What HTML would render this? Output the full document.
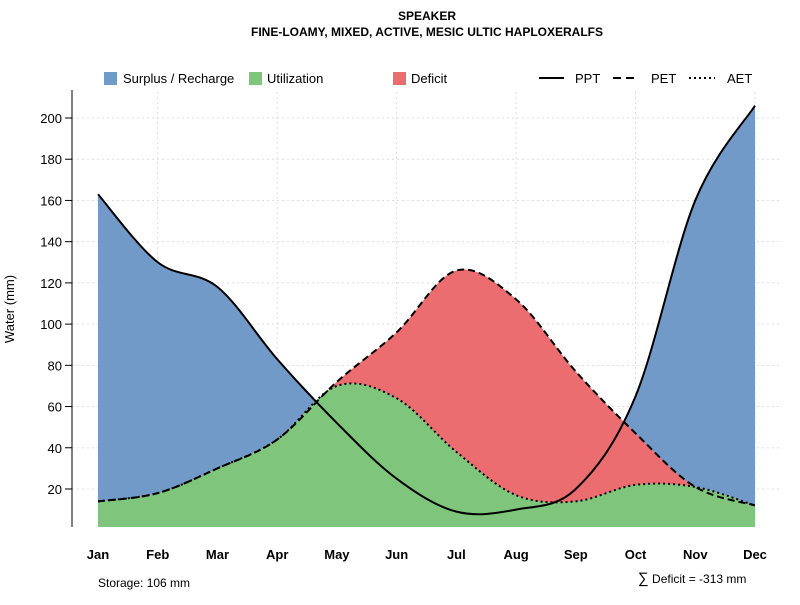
<!DOCTYPE html>
<html><head><meta charset="utf-8"><style>
body{margin:0;background:#fff;font-family:"Liberation Sans",sans-serif}
svg text{font-family:"Liberation Sans",sans-serif}
</style></head><body>
<svg id="chart" width="800" height="600" xmlns="http://www.w3.org/2000/svg">
<text x="427" y="20" text-anchor="middle" font-size="12" font-weight="bold">SPEAKER</text>
<text x="427" y="36" text-anchor="middle" font-size="12" font-weight="bold">FINE-LOAMY, MIXED, ACTIVE, MESIC ULTIC HAPLOXERALFS</text>
<g id="grid"></g>
<g id="areas"></g>
<g id="lines"></g>
<g id="axes"></g>
<g font-size="13">
 <g><rect x="104" y="72" width="13" height="13" fill="#729ac9"/><text x="123" y="83">Surplus / Recharge</text></g>
 <g><rect x="249" y="72" width="13" height="13" fill="#7fc57c"/><text x="267" y="83">Utilization</text></g>
 <g><rect x="393" y="72" width="13" height="13" fill="#ec6d6f"/><text x="411" y="83">Deficit</text></g>
 <g><line x1="539" y1="78" x2="564" y2="78" stroke="#000" stroke-width="2"/><text x="575" y="83">PPT</text></g>
 <g><line x1="613" y1="78" x2="638" y2="78" stroke="#000" stroke-width="2" stroke-dasharray="8,5"/><text x="651" y="83">PET</text></g>
 <g><line x1="689" y1="78" x2="715" y2="78" stroke="#000" stroke-width="2" stroke-dasharray="2,3"/><text x="727" y="83">AET</text></g>
</g>
<text x="98" y="587" font-size="12">Storage: 106 mm</text>
<text x="638" y="583" font-size="12"><tspan font-size="15">∑</tspan> Deficit = -313 mm</text>
<text transform="translate(14,309) rotate(-90)" text-anchor="middle" font-size="13">Water (mm)</text>
</svg>
<script>
const months=["Jan","Feb","Mar","Apr","May","Jun","Jul","Aug","Sep","Oct","Nov","Dec"];
const ppt=[163,130,118,83,52,25,9,10,20,65,160,206];
const pet=[14,18,30,44,72,96,126,112,77,47,21,12];
const aet=[14,18,30,44,70,64,38,17,14,22,21,12];
const yTicks=[20,40,60,80,100,120,140,160,180,200];
const NS="http://www.w3.org/2000/svg";
const x=i=>98+i*(755-98)/11;
const y=v=>530.2-v*(41.22/20);
function mk(t,a,p){const e=document.createElementNS(NS,t);for(const k in a)e.setAttribute(k,a[k]);p.appendChild(e);return e;}
function curve(vals){
 const pts=vals.map((v,i)=>[x(i),y(v)]);let d="M"+pts[0][0]+","+pts[0][1];
 for(let i=0;i<pts.length-1;i++){const p0=pts[Math.max(0,i-1)],p1=pts[i],p2=pts[i+1],p3=pts[Math.min(pts.length-1,i+2)];
  const c1=[p1[0]+(p2[0]-p0[0])/6,p1[1]+(p2[1]-p0[1])/6],c2=[p2[0]-(p3[0]-p1[0])/6,p2[1]-(p3[1]-p1[1])/6];
  d+=` C${c1[0]},${c1[1]} ${c2[0]},${c2[1]} ${p2[0]},${p2[1]}`;}
 return d;}
function area(vals){return curve(vals)+` L${x(vals.length-1)},527 L${x(0)},527 Z`;}
const grid=document.getElementById('grid'),areas=document.getElementById('areas'),lines=document.getElementById('lines'),axes=document.getElementById('axes');
for(const t of yTicks){const g=mk('line',{x1:72,x2:780,y1:y(t),y2:y(t),stroke:'#ddd','stroke-dasharray':'2,3'},grid);

}
for(let i=1;i<12;i+=2){const g=mk('line',{x1:x(i),x2:x(i),y1:92,y2:527,stroke:'#ddd','stroke-dasharray':'2,3'},grid);

}
const a2=mk('path',{d:area(ppt),fill:'#729ac9'},areas);


const a1=mk('path',{d:area(pet),fill:'#ec6d6f'},areas);


const a3=mk('path',{d:area(aet),fill:'#7fc57c'},areas);


const l1=mk('path',{d:curve(pet),fill:'none',stroke:'#000','stroke-width':2,'stroke-dasharray':'7,4'},lines);


const l2=mk('path',{d:curve(aet),fill:'none',stroke:'#000','stroke-width':2,'stroke-dasharray':'2,3'},lines);


const l3=mk('path',{d:curve(ppt),fill:'none',stroke:'#000','stroke-width':2},lines);


const ax=mk('line',{x1:72,x2:72,y1:90,y2:527,stroke:'#000'},axes);


for(const t of yTicks){const tk=mk('line',{x1:65,x2:72,y1:y(t),y2:y(t),stroke:'#000'},axes);


const tx=mk('text',{x:62,y:y(t)+5,'text-anchor':'end','font-size':13},axes);tx.textContent=t;

}
months.forEach((m,i)=>{const tx=mk('text',{x:x(i),y:559,'text-anchor':'middle','font-size':13,'font-weight':'bold'},axes);tx.textContent=m;

});
</script>
</body></html>
